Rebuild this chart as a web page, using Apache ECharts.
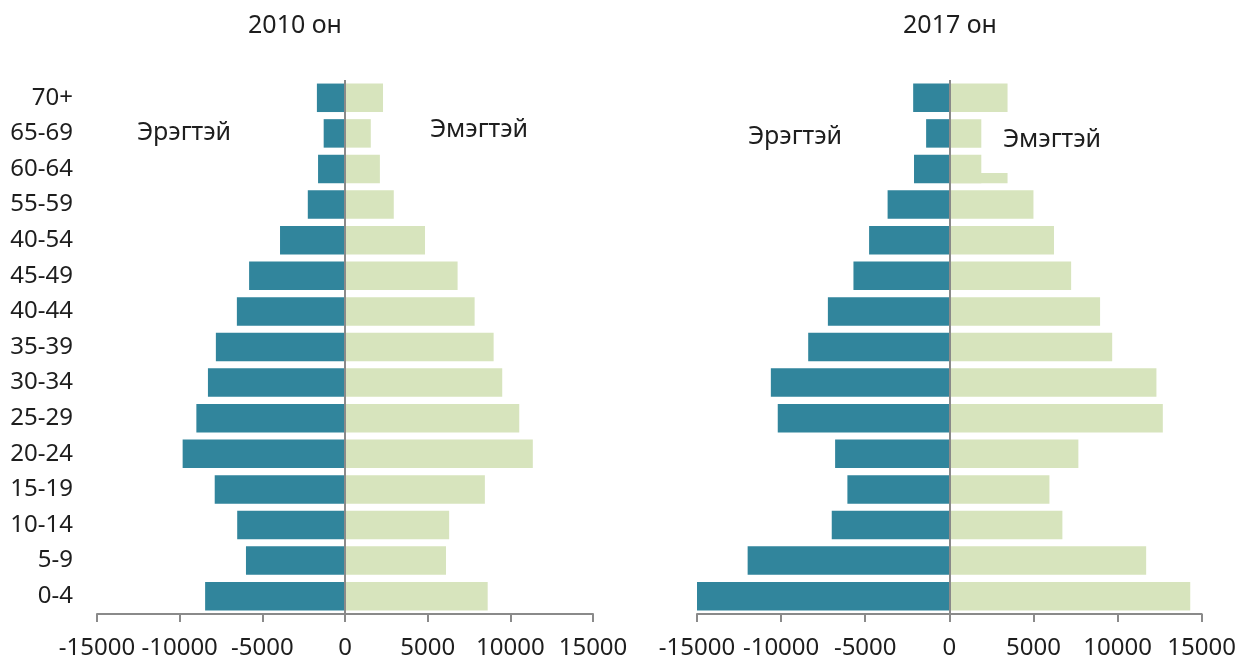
<!DOCTYPE html>
<html>
<head>
<meta charset="utf-8">
<script src="https://cdn.jsdelivr.net/npm/echarts@6/dist/echarts.min.js"></script>
<style>
html,body{margin:0;padding:0;background:#fff;}
#chart{width:1239px;height:660px;}
</style>
</head>
<body>
<div id="chart"></div>
<script>
const categories = ['0-4','5-9','10-14','15-19','20-24','25-29','30-34','35-39','40-44','45-49','40-54','55-59','60-64','65-69','70+'];
const male2010 = [-8460,-5990,-6520,-7880,-9820,-8990,-8290,-7810,-6540,-5800,-3930,-2250,-1630,-1290,-1700];
const female2010 = [8630,6110,6300,8460,11360,10540,9510,8990,7840,6810,4840,2950,2110,1560,2300];
const male2017 = [-15000,-11990,-6990,-6060,-6790,-10200,-10610,-8390,-7220,-5700,-4770,-3670,-2100,-1380,-2150];
const female2017 = [14320,11700,6720,5950,7670,12690,12310,9680,8960,7240,6220,5000,1900,1900,3460];
// extra overlapping piece visible on the 2017 female 60-64 bar
const female2017Extra = [['60-64', 3460]];
const xTicks = [-15000,-10000,-5000,0,5000,10000,15000];

const maleColor = '#31859C';
const femaleColor = '#D7E4BD';
const axisColor = '#8A8A8A';
const textColor = '#1E1E1E';
const font = 'Noto Sans';

const chart = echarts.init(document.getElementById('chart'));

function xAxisCfg(gridIndex){
  return {
    type:'value', gridIndex, min:xTicks[0], max:xTicks[xTicks.length-1], interval:5000,
    axisLine:{show:true, onZero:false, lineStyle:{color:axisColor, width:2}},
    axisTick:{show:true, length:8, lineStyle:{color:axisColor, width:2}},
    axisLabel:{color:textColor, fontSize:24, fontFamily:font, margin:22, formatter:function(v){return String(v);}},
    splitLine:{show:false}
  };
}
function yAxisCfg(gridIndex, showLabels){
  return {
    type:'category', gridIndex, data:categories,
    axisLine:{show:false}, axisTick:{show:false},
    axisLabel:{show:showLabels, color:textColor, fontSize:24, fontFamily:font, margin:24}
  };
}
const zeroLine = {
  silent:true, symbol:'none', label:{show:false},
  lineStyle:{color:axisColor, width:2, type:'solid'},
  data:[{xAxis:0}]
};
function barSeries(data, color, gi, withLine){
  const s = {
    type:'bar', data, xAxisIndex:gi, yAxisIndex:gi,
    itemStyle:{color}, barGap:'-100%', barCategoryGap:'20%',
    emphasis:{disabled:true}, z:2
  };
  if(withLine) s.markLine = zeroLine;
  return s;
}
function label(text, x, y, size){
  return {type:'text', x, y, style:{text, fontSize:size, fontFamily:font, fill:textColor, align:'center', verticalAlign:'middle'}};
}

chart.setOption({
  animation:false,
  textStyle:{fontFamily:font},
  grid:[
    {left:97, right:646, top:80, bottom:45},
    {left:697, right:37, top:80, bottom:45}
  ],
  xAxis:[xAxisCfg(0), xAxisCfg(1)],
  yAxis:[yAxisCfg(0,true), yAxisCfg(1,false)],
  series:[
    barSeries(male2010, maleColor, 0, false),
    barSeries(female2010, femaleColor, 0, true),
    {
      type:'custom', xAxisIndex:1, yAxisIndex:1, z:1,
      encode:{x:1, y:0},
      data:female2017Extra,
      renderItem:function(params, api){
        const cat = api.value(0);
        const v = api.value(1);
        const p0 = api.coord([0, cat]);
        const p1 = api.coord([v, cat]);
        const band = api.size([0,1])[1];
        const h = band*0.8;
        const bottom = p0[1] + h/2;
        const top = bottom - h*0.36;
        return {type:'rect', shape:{x:p0[0], y:top, width:p1[0]-p0[0], height:bottom-top}, style:{fill:femaleColor}};
      }
    },
    barSeries(male2017, maleColor, 1, false),
    barSeries(female2017, femaleColor, 1, true)
  ],
  graphic:[
    label('2010 он', 295, 26, 25),
    label('2017 он', 950, 26, 25),
    label('Эрэгтэй', 184, 133, 25),
    label('Эмэгтэй', 479, 130, 25),
    label('Эрэгтэй', 795, 137, 25),
    label('Эмэгтэй', 1052, 140, 25)
  ]
});
</script>
</body>
</html>
